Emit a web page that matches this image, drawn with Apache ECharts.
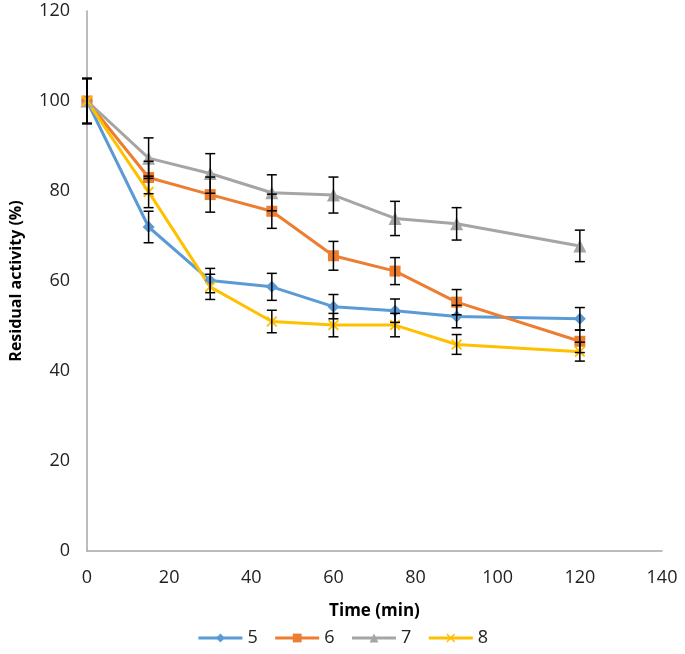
<!DOCTYPE html>
<html><head><meta charset="utf-8">
<script src="https://cdn.jsdelivr.net/npm/echarts@6/dist/echarts.min.js"></script>
<style>html,body{margin:0;padding:0;background:#fff}#c{width:685px;height:654px}</style>
</head><body><div id="c"></div>
<script>
var times = [0, 15, 30, 45, 60, 75, 90, 120];
var seriesNames = ['5', '6', '7', '8'];
var s5 = [100, 72.0, 60.1, 58.7, 54.3, 53.4, 52.1, 51.6];
var s6 = [100, 83.0, 79.2, 75.5, 65.6, 62.2, 55.3, 46.6];
var s7 = [100, 87.3, 83.9, 79.6, 79.1, 73.9, 72.7, 67.8];
var s8 = [100, 79.8, 58.7, 51.0, 50.2, 50.2, 45.9, 44.3];
var e5 = [5, 3.5, 2.7, 3.0, 2.7, 2.6, 2.5, 2.5];
var e6 = [5, 3.6, 3.9, 3.8, 3.2, 3.0, 2.8, 2.5];
var e7 = [5, 4.5, 4.4, 4.0, 4.0, 3.8, 3.6, 3.5];
var e8 = [5, 3.5, 2.8, 2.5, 2.6, 2.6, 2.2, 2.1];
var xTicks = [0, 20, 40, 60, 80, 100, 120, 140];
var yTicks = [0, 20, 40, 60, 80, 100, 120];

var colors = ['#5B9BD5', '#ED7D31', '#A5A5A5', '#FFC000'];
var values = [s5, s6, s7, s8];
var errs = [e5, e6, e7, e8];
var xShape = 'path://M0,1.2 L1.2,0 L5,3.8 L8.8,0 L10,1.2 L6.2,5 L10,8.8 L8.8,10 L5,6.2 L1.2,10 L0,8.8 L3.8,5 Z';
var symbols = ['diamond', 'rect', 'triangle', xShape];
var symSizes = [12, 11, 13, 11];

var font = 'Open Sans, Noto Sans, sans-serif';
var series = [];
values.forEach(function (v, i) {
  series.push({
    name: seriesNames[i], type: 'line',
    data: times.map(function (t, j) { return [t, v[j]]; }),
    symbol: symbols[i], symbolSize: symSizes[i],
    lineStyle: { color: colors[i], width: 3 },
    itemStyle: { color: colors[i] },
    z: 2
  });
});
values.forEach(function (v, i) {
  series.push({
    type: 'custom', z: 3, silent: true,
    data: times.map(function (t, j) { return [t, v[j] - errs[i][j], v[j] + errs[i][j]]; }),
    renderItem: function (params, api) {
      var lo = api.coord([api.value(0), api.value(1)]);
      var hi = api.coord([api.value(0), api.value(2)]);
      var w = 5;
      var st = { stroke: '#000', lineWidth: 1.5 };
      return { type: 'group', children: [
        { type: 'line', shape: { x1: lo[0], y1: lo[1], x2: hi[0], y2: hi[1] }, style: st },
        { type: 'line', shape: { x1: lo[0] - w, y1: lo[1], x2: lo[0] + w, y2: lo[1] }, style: st },
        { type: 'line', shape: { x1: hi[0] - w, y1: hi[1], x2: hi[0] + w, y2: hi[1] }, style: st }
      ]};
    }
  });
});

var chart = echarts.init(document.getElementById('c'));
chart.setOption({
  animation: false,
  textStyle: { fontFamily: font },
  grid: { left: 82, right: 23, top: 11, bottom: 103 },
  legend: {
    data: seriesNames, bottom: 2, left: 'center',
    itemWidth: 44, itemHeight: 11, itemGap: 16,
    lineStyle: { width: 3 },
    textStyle: { fontSize: 18, color: '#222', fontFamily: font }
  },
  xAxis: {
    type: 'value', min: xTicks[0], max: xTicks[xTicks.length - 1], interval: 20,
    name: 'Time (min)', nameLocation: 'middle', nameGap: 52,
    nameTextStyle: { fontSize: 17, fontWeight: 'bold', color: '#000', fontFamily: font },
    axisLine: { show: true, lineStyle: { color: '#A6A6A6', width: 1.5 } },
    axisTick: { show: false },
    axisLabel: { fontSize: 18, color: '#222', margin: 18 },
    splitLine: { show: false }
  },
  yAxis: {
    type: 'value', min: yTicks[0], max: yTicks[yTicks.length - 1], interval: 20,
    name: 'Residual activity (%)', nameLocation: 'middle', nameGap: 63,
    nameTextStyle: { fontSize: 16, fontWeight: 'bold', color: '#000', fontFamily: font },
    axisLine: { show: true, lineStyle: { color: '#A6A6A6', width: 1.5 } },
    axisTick: { show: false },
    axisLabel: { fontSize: 18, color: '#222', margin: 17 },
    splitLine: { show: false }
  },
  series: series
});
</script></body></html>
